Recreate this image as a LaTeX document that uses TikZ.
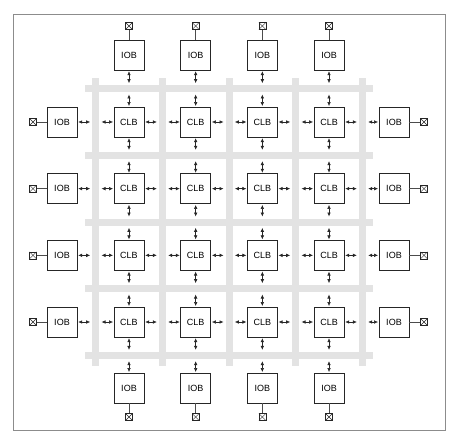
\documentclass[tikz,border=0pt]{standalone}
\usepackage{fontspec}
\setmainfont{Liberation Sans}
\usetikzlibrary{arrows.meta}

\begin{document}
\begin{tikzpicture}[
      x=1pt, y=-1pt,
      blk/.style={rectangle, draw=black!85, fill=white, line width=0.8pt,
      minimum size=30pt, inner sep=0pt, font=\fontsize{9}{10}\selectfont},
      pad/.style={rectangle, draw=black!85, fill=white, line width=0.6pt,
      minimum size=7pt, inner sep=0pt,
      path picture={\draw[line width=0.4pt]
        (path picture bounding box.north west) -- (path picture bounding box.south east)
        (path picture bounding box.south west) -- (path picture bounding box.north east);}},
      bus/.style={draw=black!11, line width=7pt},
      wire/.style={draw=black!70, line width=0.5pt},
      lnk/.style={{Latex[length=4pt,width=3.6pt]}-{Latex[length=4pt,width=3.6pt]},
      black!85, line width=0.6pt, shorten <=0.8pt, shorten >=0.5pt}
    ]
    \useasboundingbox (0,0) rectangle (459,435);

    % Frame
    \draw[black!45, line width=0.6pt] (13,14) rectangle (445,430);

    % Routing channels
    \foreach \k in {0,...,4} {
      \draw[bus] ({95.7+\k*66.67},78) -- ({95.7+\k*66.67},366);
      \draw[bus] (85,{88.7+\k*66.67}) -- (373,{88.7+\k*66.67});
    }

    % CLB array
    \foreach \j in {1,...,4}
      \foreach \i in {1,...,4}
        \node[blk] (cell-\j-\i) at ({129+(\i-1)*66.67},{122+(\j-1)*66.67}) {CLB};

    % IOBs top and bottom
    \foreach \i in {1,...,4} {
      \node[blk, alias=cell-0-\i] (iobt-\i) at ({129+(\i-1)*66.67},55) {IOB};
      \node[pad] (padt-\i) at ({129+(\i-1)*66.67},26) {};
      \draw[wire] (padt-\i) -- (iobt-\i);
      \node[blk, alias=cell-5-\i] (iobb-\i) at ({129+(\i-1)*66.67},388) {IOB};
      \node[pad] (padb-\i) at ({129+(\i-1)*66.67},417) {};
      \draw[wire] (padb-\i) -- (iobb-\i);
    }

    % IOBs left and right
    \foreach \j in {1,...,4} {
      \node[blk, alias=cell-\j-0] (iobl-\j) at (62,{122+(\j-1)*66.67}) {IOB};
      \node[pad] (padl-\j) at (33,{122+(\j-1)*66.67}) {};
      \draw[wire] (padl-\j) -- (iobl-\j);
      \node[blk, alias=cell-\j-5] (iobr-\j) at (394,{122+(\j-1)*66.67}) {IOB};
      \node[pad] (padr-\j) at (424,{122+(\j-1)*66.67}) {};
      \draw[wire] (padr-\j) -- (iobr-\j);
    }

    % Links into the channels
    \foreach \j in {1,...,4} {
      \foreach \k [evaluate=\k as \n using int(\k+1)] in {0,...,4} {
        % horizontal
        \coordinate (chw-\j-\k) at ({95.7+\k*66.67-5},{122+(\j-1)*66.67});
        \coordinate (che-\j-\k) at ({95.7+\k*66.67+5},{122+(\j-1)*66.67});
        \draw[lnk] (cell-\j-\k) -- (chw-\j-\k);
        \draw[lnk] (che-\j-\k) -- (cell-\j-\n);
        % vertical
        \coordinate (cvn-\k-\j) at ({129+(\j-1)*66.67},{88.7+\k*66.67-5});
        \coordinate (cvs-\k-\j) at ({129+(\j-1)*66.67},{88.7+\k*66.67+5});
        \draw[lnk] (cell-\k-\j) -- (cvn-\k-\j);
        \draw[lnk] (cvs-\k-\j) -- (cell-\n-\j);
      }
    }

  \end{tikzpicture}
\end{document}
